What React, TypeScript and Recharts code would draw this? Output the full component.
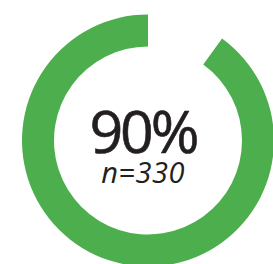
import React from "react";
import { PieChart, Pie, Cell, Label } from "recharts";

const categories = ["Yes", "Remaining"];
const values = [90, 10];
const colors = ["#4CAE4C", "transparent"];
const mainLabel = "90%";
const subLabel = "n=330";

const data = categories.map((name, i) => ({ name, value: values[i] }));

const CenterText = (props: any) => {
  const vb = props.viewBox || {};
  const cx = vb.cx ?? 143;
  const cy = vb.cy ?? 135.5;
  return (
    <g>
      <text
        x={cx}
        y={cy + 17.5}
        textAnchor="middle"
        fill="#231F20"
        stroke="#231F20"
        strokeWidth={0.6}
        style={{ fontFamily: "'Open Sans', sans-serif", fontSize: 59, letterSpacing: -3 }}
      >
        {mainLabel}
      </text>
      <text
        x={cx}
        y={cy + 47}
        textAnchor="middle"
        fill="#231F20"
        style={{ fontFamily: "'Open Sans', sans-serif", fontSize: 29, fontStyle: "italic", letterSpacing: 0.5 }}
      >
        {subLabel}
      </text>
    </g>
  );
};

export default function App() {
  return (
    <div style={{ position: "absolute", left: 0, top: 0, width: 273, height: 264, background: "#fff" }}>
      <PieChart width={273} height={264}>
        <Pie
          data={data}
          dataKey="value"
          nameKey="name"
          cx={143}
          cy={135.5}
          innerRadius={94}
          outerRadius={126}
          startAngle={90}
          endAngle={450}
          stroke="none"
          isAnimationActive={false}
        >
          {data.map((d, i) => (
            <Cell key={d.name} fill={colors[i]} />
          ))}
          <Label content={<CenterText />} position="center" />
        </Pie>
      </PieChart>
    </div>
  );
}
